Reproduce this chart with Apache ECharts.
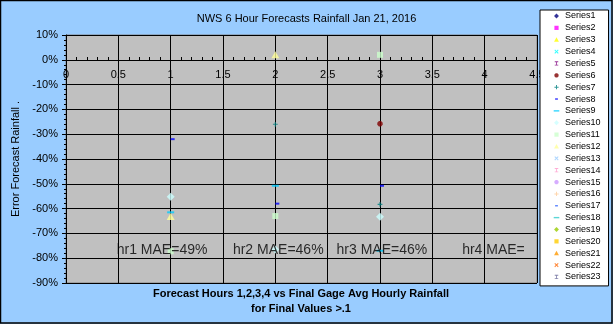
<!DOCTYPE html>
<html><head><meta charset="utf-8">
<script src="https://cdn.jsdelivr.net/npm/echarts@6/dist/echarts.min.js"></script>
<style>html,body{margin:0;padding:0;background:#99CCFF}#c{width:613px;height:324px}</style>
</head><body><div id="c"></div><script>
// ---- data ----
const seriesNames = ['Series1','Series2','Series3','Series4','Series5','Series6','Series7','Series8','Series9','Series10','Series11','Series12','Series13','Series14','Series15','Series16','Series17','Series18','Series19','Series20','Series21','Series22','Series23'];
const seriesColors = ['#000080','#FF00FF','#FFFF00','#00FFFF','#800080','#800000','#008080','#0000FF','#00CCFF','#CCFFFF','#CCFFCC','#FFFF99','#99CCFF','#FF99CC','#CC99FF','#FFCC99','#3366FF','#33CCCC','#99CC00','#FFCC00','#FF9900','#FF6600','#666699'];
const xTickLabels = ['0','0.5','1','1.5','2','2.5','3','3.5','4','4.5'];
const yTickLabels = ['-90%','-80%','-70%','-60%','-50%','-40%','-30%','-20%','-10%','0%','10%'];
// [forecast hour, error %]
const series6Data  = [[3, -25.8]];
const series7Data  = [[2, -26], [3, -58.3]];
const series8Data  = [[1, -32], [2, -58], [3, -50.8]];
const series9Data  = [[1, -61.5], [2, -50.8], [3, -77]];
const series10Data = [[1, -55.2], [2, -76.5], [3, -63.3]];
const series11Data = [[1, -77.2], [2, -63], [3, 2]];
const series12Data = [[1, -63.2], [2, 2]];
const maeLabels = ['hr1 MAE=49%', 'hr2 MAE=46%', 'hr3 MAE=46%', 'hr4 MAE='];
const maeAnchors = [[0.48, -76.7], [1.59, -76.7], [2.58, -76.7], [3.78, -76.7]];

const dataBySeries = {Series6: series6Data, Series7: series7Data, Series8: series8Data, Series9: series9Data, Series10: series10Data, Series11: series11Data, Series12: series12Data};

// ---- marker shapes ----
const A = 'M0,0M10,10';
const shp = {
  diamond: A + 'M5,1.5L8.5,5L5,8.5L1.5,5Z',
  square: A + 'M2,2H8V8H2Z',
  triangle: A + 'M5,1.5L8.5,8L1.5,8Z',
  x: A + 'M2,3L3,2L5,4L7,2L8,3L6,5L8,7L7,8L5,6L3,8L2,7L4,5Z',
  ibeam: A + 'M2.5,2H7.5V3.2H5.6V6.8H7.5V8H2.5V6.8H4.4V3.2H2.5Z',
  circle: A + 'M3.8,2H6.2L8,3.8V6.2L6.2,8H3.8L2,6.2V3.8Z',
  plus: A + 'M4.3,2H5.7V4.3H8V5.7H5.7V8H4.3V5.7H2V4.3H4.3Z',
  sdash: A + 'M3,4H7V6H3Z',
  ldash: A + 'M1,4H9V6H1Z'
};
const legendShapes = ['diamond','square','triangle','x','ibeam','circle','plus','sdash','ldash','diamond','square','triangle','x','ibeam','circle','plus','sdash','ldash','diamond','square','triangle','x','ibeam'];
const chartSymbol = {
  Series6: {symbol:'path://' + shp.circle, symbolSize: 9},
  Series7: {symbol:'path://' + shp.plus, symbolSize: 8},
  Series8: {symbol:'rect', symbolSize:[4,2], symbolOffset:[2,0]},
  Series9: {symbol:'rect', symbolSize:[7,2]},
  Series10: {symbol:'diamond', symbolSize:[8,8]},
  Series11: {symbol:'rect', symbolSize:6},
  Series12: {symbol:'triangle', symbolSize:[8,7]}
};

const FONT = 'Arial, "Liberation Sans", sans-serif';
const series = seriesNames.map((n, i) => Object.assign({
  name: n, type: 'scatter', data: dataBySeries[n] || [],
  itemStyle: {color: seriesColors[i]}, z: 3, silent: true
}, chartSymbol[n] || {symbol: 'path://' + shp[legendShapes[i]], symbolSize: 8}));

series.push({
  name: 'MAE', type: 'scatter', data: maeAnchors, symbolSize: 1, z: 10, silent: true,
  itemStyle: {color: 'rgba(0,0,0,0)'},
  label: {show: true, position: 'right', distance: 0, fontSize: 14, fontFamily: FONT, color: '#000',
    formatter: p => maeLabels[p.dataIndex]}
});

const chart = echarts.init(document.getElementById('c'), null, {renderer: 'canvas'});
chart.setOption({
  animation: false,
  backgroundColor: '#99CCFF',
  title: {text: 'NWS 6 Hour Forecasts Rainfall Jan 21, 2016', left: 'center', top: 13, padding: 0,
    textStyle: {fontSize: 11, fontWeight: 'normal', color: '#000', fontFamily: FONT}},
  grid: {left: 66, top: 35, width: 471, height: 248, show: true, backgroundColor: '#C0C0C0', borderColor: '#808080', borderWidth: 1},
  xAxis: {
    type: 'value', min: 0, max: 4.5, interval: 0.5,
    position: 'bottom', offset: -223,
    axisLine: {onZero: false, lineStyle: {color: '#000', width: 1}},
    axisTick: {show: true, inside: true, length: 3, lineStyle: {color: '#000'}},
    minorTick: {show: true, splitNumber: 5, length: 3, lineStyle: {color: '#000'}},
    splitLine: {show: true, lineStyle: {color: '#000', width: 1}},
    axisLabel: {margin: 9, fontSize: 11, color: '#000', fontFamily: FONT,
      formatter: v => xTickLabels[Math.round(v / 0.5)]}
  },
  yAxis: {
    type: 'value', min: -90, max: 10, interval: 10,
    name: 'Error Forecast Rainfall .', nameLocation: 'middle', nameGap: 39,
    nameTextStyle: {fontSize: 11, color: '#000', fontFamily: FONT},
    axisLine: {show: true, onZero: false, lineStyle: {color: '#000'}},
    axisTick: {show: true, length: 4, lineStyle: {color: '#000'}},
    minorTick: {show: true, splitNumber: 5, length: 2, lineStyle: {color: '#000'}},
    splitLine: {show: true, lineStyle: {color: '#000', width: 1}},
    axisLabel: {margin: 8, fontSize: 11, color: '#000', fontFamily: FONT,
      formatter: v => yTickLabels[Math.round((v + 90) / 10)]}
  },
  legend: {
    orient: 'vertical', left: 540, top: 10, padding: [1, 8, 4, 13],
    itemWidth: 7, itemHeight: 7, itemGap: 1.86,
    backgroundColor: '#fff', borderColor: '#000', borderWidth: 1, borderRadius: 0,
    textStyle: {fontSize: 9, lineHeight: 10, color: '#000', fontFamily: FONT},
    selectedMode: false,
    data: seriesNames.map((n, i) => ({name: n, icon: 'path://' + shp[legendShapes[i]]}))
  },
  graphic: [
    {type: 'text', x: 301, y: 286, z: 100, style: {text: 'Forecast Hours 1,2,3,4 vs Final Gage Avg Hourly Rainfall\nfor Final Values >.1',
      textAlign: 'center', font: 'bold 11px ' + FONT, fill: '#000', lineHeight: 15}},
    {type: 'rect', shape: {x: 0.5, y: 0.5, width: 611.5, height: 322.5}, z: 100,
      style: {fill: 'none', stroke: '#000', lineWidth: 1.5}}
  ],
  series: series
});
</script></body></html>
